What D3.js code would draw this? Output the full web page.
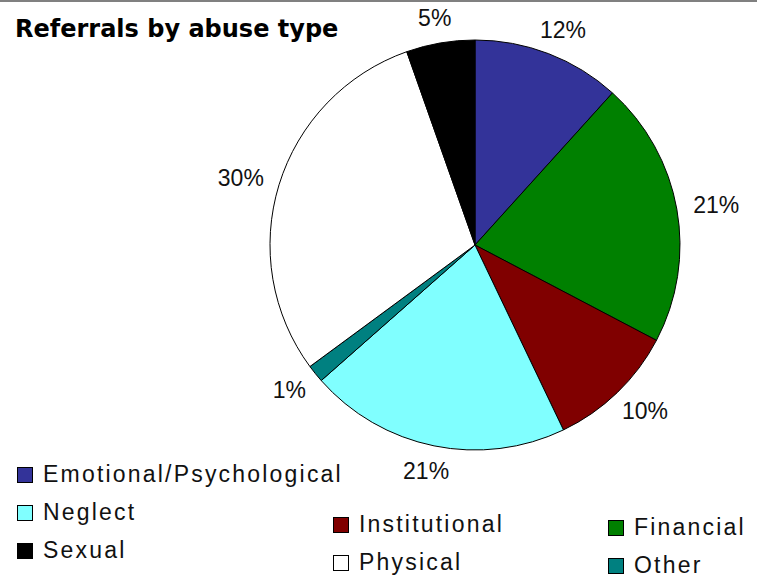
<!DOCTYPE html>
<html>
<head>
  <meta charset="utf-8" />
  <title>Referrals by abuse type</title>
  <script src="https://d3js.org/d3.v7.min.js"></script>
  <style>
    body { margin: 0; background: #fff; }
    svg { display: block; }
  </style>
</head>
<body>
<div id="chart"></div>
<script>
  // Chart data
  const categories = ["Emotional/Psychological", "Financial", "Institutional", "Neglect", "Other", "Physical", "Sexual"];
  const shares = [11.7, 21.0, 10.2, 20.6, 1.4, 29.7, 5.4];
  const sliceColors = ["#333399", "#008000", "#800000", "#80ffff", "#008080", "#ffffff", "#000000"];
  // Legend order as Excel lays it out (column by column)
  const legendColumns = [
    ["Emotional/Psychological", "Neglect", "Sexual"],
    ["Institutional", "Physical"],
    ["Financial", "Other"]
  ];

  const W = 757, H = 577;
  const cx = 475, cy = 245, radius = 205;
  const labelFont = 23;

  const svg = d3.select("#chart").append("svg")
    .attr("width", W).attr("height", H);

  // grey frame line at the top
  svg.append("rect").attr("x", 0).attr("y", 0).attr("width", W).attr("height", 2).attr("fill", "#808080");

  svg.append("text")
    .attr("x", 15).attr("y", 37)
    .attr("font-family", "DejaVu Sans").attr("font-weight", "bold")
    .attr("font-size", 24).attr("fill", "#000")
    .text("Referrals by abuse type");

  const data = categories.map((c, i) => ({ name: c, value: shares[i] }));
  const color = d3.scaleOrdinal().domain(categories).range(sliceColors);

  const pie = d3.pie().sort(null).value(d => d.value);
  const arc = d3.arc().innerRadius(0).outerRadius(radius);
  const anchorArc = d3.arc().innerRadius(radius + 17).outerRadius(radius + 17);

  const g = svg.append("g").attr("transform", `translate(${cx},${cy})`);
  const arcs = pie(data);

  g.selectAll("path").data(arcs).enter().append("path")
    .attr("d", arc)
    .attr("fill", d => color(d.data.name))
    .attr("stroke", "#000").attr("stroke-width", 1);

  // labels sit outside the rim: the box is pushed out from its anchor point
  const pct = g.selectAll("text.pct").data(arcs).enter().append("text")
    .attr("class", "pct")
    .attr("text-anchor", "middle")
    .attr("font-family", "Liberation Sans, Arial, sans-serif")
    .attr("font-size", labelFont).attr("fill", "#111")
    .text(d => Math.round(d.data.value) + "%");

  pct.each(function(d) {
    const w = this.getComputedTextLength();
    const h = labelFont * 0.72;
    const mid = (d.startAngle + d.endAngle) / 2;
    const [ax, ay] = anchorArc.centroid(d);
    const bx = ax + Math.sin(mid) * w / 2;
    const by = ay - Math.cos(mid) * h / 2;
    d3.select(this).attr("x", bx).attr("y", by + h / 2);
  });

  // legend
  const colX = [17, 333, 608];
  const colY0 = [467, 517, 520];
  const rowStep = 38;
  legendColumns.forEach((col, ci) => {
    col.forEach((name, ri) => {
      const y = colY0[ci] + ri * rowStep;
      svg.append("rect")
        .attr("x", colX[ci] + 0.5).attr("y", y + 0.5)
        .attr("width", 15).attr("height", 15)
        .attr("fill", color(name)).attr("stroke", "#000").attr("stroke-width", 1);
      svg.append("text")
        .attr("x", colX[ci] + 26).attr("y", y + 15)
        .attr("font-family", "Liberation Sans, Arial, sans-serif")
        .attr("font-size", 23).attr("letter-spacing", 2.2).attr("fill", "#111")
        .text(name);
    });
  });
</script>
</body>
</html>
